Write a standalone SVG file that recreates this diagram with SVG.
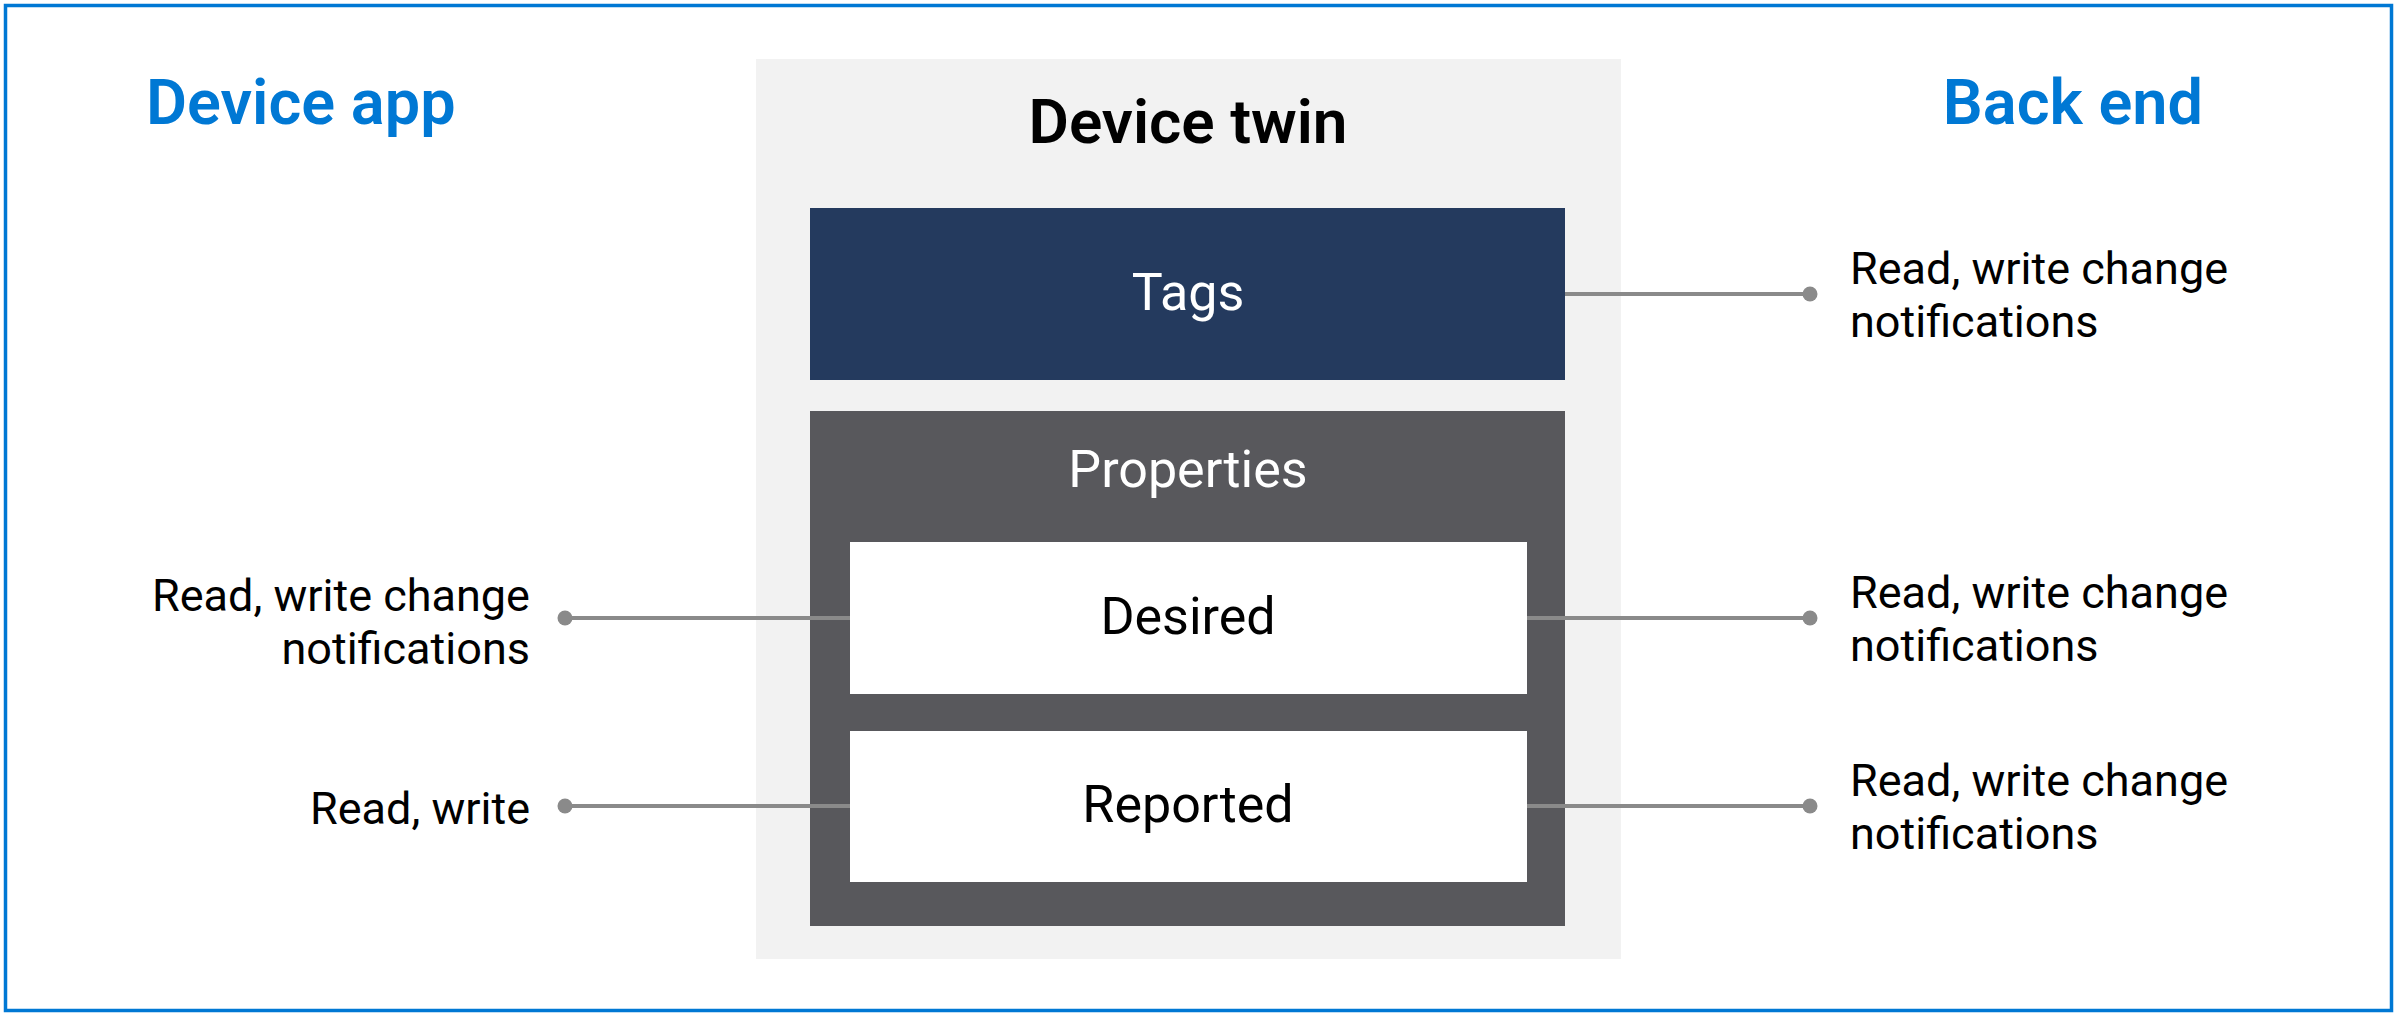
<svg xmlns="http://www.w3.org/2000/svg" width="2394" height="1013" viewBox="0 0 2394 1013">
  <style>
    .title { font-family: Roboto, "Liberation Sans", sans-serif; font-weight: 600; font-size: 63px; fill: #0078d4; }
    .label { font-family: Roboto, "Liberation Sans", sans-serif; font-size: 45px; fill: #000000; }
    .boxtext { font-family: Roboto, "Liberation Sans", sans-serif; font-size: 52px; }
    .conn { stroke: #8a8a8a; stroke-width: 4; fill: none; }
    .dot { fill: #8a8a8a; }
  </style>

  <!-- frame -->
  <rect x="5.5" y="5.5" width="2386" height="1005" fill="#ffffff" stroke="#0078d4" stroke-width="3.5"/>

  <!-- side headings -->
  <text class="title" x="146" y="124">Device app</text>
  <text class="title" x="2203" y="124" text-anchor="end">Back end</text>

  <!-- device twin container -->
  <g id="device-twin">
    <rect x="756" y="59" width="865" height="900" fill="#f2f2f2"/>
    <text x="1188" y="143" text-anchor="middle" font-family="Roboto, 'Liberation Sans', sans-serif" font-weight="600" font-size="62" fill="#000000">Device twin</text>
  </g>

  <g id="tags">
    <rect x="810" y="208" width="755" height="172" fill="#243a5e"/>
    <text class="boxtext" x="1188" y="310" text-anchor="middle" fill="#ffffff" font-size="50">Tags</text>
  </g>

  <g id="properties">
    <rect x="810" y="411" width="755" height="515" fill="#58585c"/>
    <text class="boxtext" x="1188" y="487" text-anchor="middle" fill="#ffffff">Properties</text>
  </g>

  <g id="desired">
    <rect x="850" y="542" width="677" height="152" fill="#ffffff"/>
    <text class="boxtext" x="1188" y="634" text-anchor="middle" fill="#000000">Desired</text>
  </g>

  <g id="reported">
    <rect x="850" y="731" width="677" height="151" fill="#ffffff"/>
    <text class="boxtext" x="1188" y="822" text-anchor="middle" fill="#000000">Reported</text>
  </g>

  <!-- connectors -->
  <g id="connectors">
    <line class="conn" x1="1565" y1="294" x2="1810" y2="294"/>
    <circle class="dot" cx="1810" cy="294" r="7.5"/>
    <line class="conn" x1="1527" y1="618" x2="1810" y2="618"/>
    <circle class="dot" cx="1810" cy="618" r="7.5"/>
    <line class="conn" x1="1527" y1="806" x2="1810" y2="806"/>
    <circle class="dot" cx="1810" cy="806" r="7.5"/>
    <line class="conn" x1="850" y1="618" x2="565" y2="618"/>
    <circle class="dot" cx="565" cy="618" r="7.5"/>
    <line class="conn" x1="850" y1="806" x2="565" y2="806"/>
    <circle class="dot" cx="565" cy="806" r="7.5"/>
  </g>

  <!-- connector labels -->
  <g id="label-tags-backend">
    <text class="label" x="1850" y="284">Read, write change</text>
    <text class="label" x="1850" y="337">notifications</text>
  </g>
  <g id="label-desired-backend">
    <text class="label" x="1850" y="608">Read, write change</text>
    <text class="label" x="1850" y="661">notifications</text>
  </g>
  <g id="label-reported-backend">
    <text class="label" x="1850" y="796">Read, write change</text>
    <text class="label" x="1850" y="849">notifications</text>
  </g>
  <g id="label-desired-device">
    <text class="label" x="530" y="611" text-anchor="end">Read, write change</text>
    <text class="label" x="530" y="664" text-anchor="end">notifications</text>
  </g>
  <g id="label-reported-device">
    <text class="label" x="530" y="824" text-anchor="end">Read, write</text>
  </g>
</svg>
